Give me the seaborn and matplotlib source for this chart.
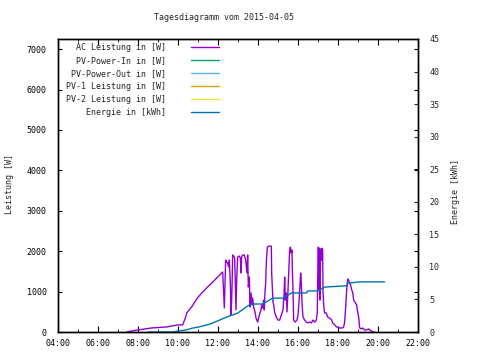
import pandas as pd
import seaborn as sns
import matplotlib.pyplot as plt
from matplotlib.ticker import MultipleLocator, FuncFormatter
from matplotlib.lines import Line2D

# AC Leistung [W] (Uhrzeit, Watt)
ac_zeit = ['07:26', '07:41', '07:59', '08:20', '08:41', '09:26', '09:59', '10:14', '10:23', '10:26',
           '10:41', '10:56', '11:11', '11:26', '11:44', '11:59', '12:08', '12:14', '12:19', '12:23',
           '12:26', '12:29', '12:32', '12:34', '12:37', '12:39', '12:41', '12:42', '12:44', '12:47',
           '12:50', '12:52', '12:54', '12:56', '12:59', '13:04', '13:07', '13:09', '13:11', '13:14',
           '13:19', '13:23', '13:27', '13:29', '13:31', '13:34', '13:36', '13:39', '13:42', '13:44',
           '13:47', '13:51', '13:54', '13:59', '14:04', '14:09', '14:11', '14:14', '14:17', '14:19',
           '14:21', '14:23', '14:25', '14:28', '14:32', '14:40', '14:41', '14:45', '14:47', '14:50',
           '14:55', '15:00', '15:05', '15:10', '15:15', '15:18', '15:20', '15:22', '15:25', '15:27',
           '15:30', '15:33', '15:35', '15:37', '15:40', '15:42', '15:43', '15:45', '15:47', '15:51',
           '15:57', '16:00', '16:03', '16:05', '16:08', '16:10', '16:12', '16:15', '16:20', '16:25',
           '16:30', '16:35', '16:40', '16:45', '16:50', '16:55', '16:58', '16:59', '17:01', '17:03',
           '17:04', '17:06', '17:08', '17:10', '17:12', '17:14', '17:15', '17:17', '17:20', '17:25',
           '17:29', '17:35', '17:41', '17:44', '17:50', '17:56', '18:05', '18:14', '18:17', '18:20',
           '18:23', '18:26', '18:29', '18:32', '18:35', '18:38', '18:41', '18:44', '18:47', '18:56',
           '18:59', '19:02', '19:05', '19:11', '19:14', '19:20', '19:26', '19:32', '19:35', '19:41',
           '19:44', '19:50']
ac_watt = [0, 25, 50, 75, 100, 125, 175, 175, 370, 470,
           620, 815, 965, 1090, 1235, 1360, 1435, 1485, 595, 1780,
           1730, 1705, 1610, 1780, 1210, 420, 790, 1090, 1905, 1880,
           1830, 1210, 545, 1285, 1855, 1880, 1830, 1460, 1855, 1905,
           1905, 1780, 1460, 1905, 1115, 1360, 620, 965, 670, 840,
           620, 495, 345, 245, 420, 545, 670, 595, 790, 545,
           990, 1210, 1730, 2100, 2125, 2125, 1460, 740, 670, 495,
           370, 295, 295, 420, 545, 915, 1360, 790, 965, 495,
           1040, 1655, 2030, 2100, 1955, 2030, 1535, 1040, 295, 245,
           295, 420, 740, 1040, 1460, 1210, 715, 370, 295, 245,
           225, 245, 225, 295, 245, 295, 495, 1285, 2100, 1040,
           2075, 790, 2055, 1780, 2075, 2030, 1040, 670, 470, 470,
           370, 345, 295, 225, 175, 125, 100, 100, 125, 245,
           620, 1040, 1310, 1285, 1210, 1160, 1040, 990, 790, 670,
           495, 370, 100, 75, 100, 50, 50, 75, 50, 25,
           0, 0]

# Energie [kWh]
en_zeit = ['08:32', '09:44', '09:59', '10:23', '10:44', '11:05', '11:35', '11:50', '12:26', '12:59',
           '13:29', '13:41', '14:14', '14:44', '15:14', '15:41', '16:26', '16:29', '16:59', '17:20',
           '18:26', '18:29', '19:05', '20:20']
en_kwh = [0, 0, 0.15, 0.3, 0.6, 0.8, 1.2, 1.5, 2.3, 2.9,
          4.0, 4.3, 4.3, 5.2, 5.2, 6.0, 6.0, 6.3, 6.3, 6.9,
          7.1, 7.5, 7.7, 7.7]

labels = ['AC Leistung in [W]', 'PV-Power-In in [W]', 'PV-Power-Out in [W]',
          'PV-1 Leistung in [W]', 'PV-2 Leistung in [W]', 'Energie in [kWh]']
farben = ['#9400D3', '#009E73', '#56B4E9', '#E69F00', '#F0E442', '#0072B2']


def stunden(z):
    h, m = z.split(':')
    return int(h) + int(m) / 60


df_ac = pd.DataFrame({'zeit': [stunden(z) for z in ac_zeit], 'watt': ac_watt})
df_en = pd.DataFrame({'zeit': [stunden(z) for z in en_zeit], 'kwh': en_kwh})

sns.set_style('ticks')
plt.rcParams['font.family'] = ['DejaVu Sans Mono']
plt.rcParams['font.size'] = 6

fig = plt.figure(figsize=(4.8, 3.6), dpi=100)
ax = fig.add_axes([58 / 480, 1 - 332 / 360, 360 / 480, 293 / 360])
ax2 = ax.twinx()

sns.lineplot(data=df_ac, x='zeit', y='watt', ax=ax, color=farben[0], lw=1.0, estimator=None)
sns.lineplot(data=df_en, x='zeit', y='kwh', ax=ax2, color=farben[5], lw=1.0, estimator=None)

ax.set_xlim(4, 22)
ax.set_ylim(0, 7250)
ax2.set_ylim(0, 45)

ax.xaxis.set_major_locator(MultipleLocator(2))
ax.xaxis.set_minor_locator(MultipleLocator(1))
ax.xaxis.set_major_formatter(FuncFormatter(lambda v, p: '%02d:00' % int(round(v))))
ax.yaxis.set_major_locator(MultipleLocator(1000))
ax2.yaxis.set_major_locator(MultipleLocator(5))

ax.tick_params(axis='both', which='both', direction='in', top=True, right=True,
               colors='black', labelsize=6)
ax.tick_params(axis='y', pad=8, length=3)
ax.tick_params(axis='x', which='major', pad=5, length=4)
ax.tick_params(axis='x', which='minor', length=2)
ax2.tick_params(axis='y', direction='in', pad=8, length=3, labelsize=6)

for a in (ax, ax2):
    for s in a.spines.values():
        s.set_visible(True)
        s.set_color('black')
        s.set_linewidth(1.0)
    a.set_xlabel('')
    a.set_ylabel('')

fig.text(224 / 480, 1 - 18 / 360, 'Tagesdiagramm vom 2015-04-05', ha='center', va='center', fontsize=6)
fig.text(10 / 480, 1 - 184 / 360, 'Leistung [W]', rotation=90, ha='center', va='center', fontsize=6)
fig.text(455 / 480, 1 - 192 / 360, 'Energie [kWh]', rotation=90, ha='center', va='center', fontsize=6)

handles = [Line2D([], [], color=c, lw=1.0) for c in farben]
ax2.legend(handles, labels, loc='upper left', bbox_to_anchor=(0.005, 1.005), frameon=False,
           markerfirst=False, handlelength=3.4, handletextpad=3.0, labelspacing=0.46,
           fontsize=6, borderpad=0.2)

fig.savefig('out.png', dpi=100)
